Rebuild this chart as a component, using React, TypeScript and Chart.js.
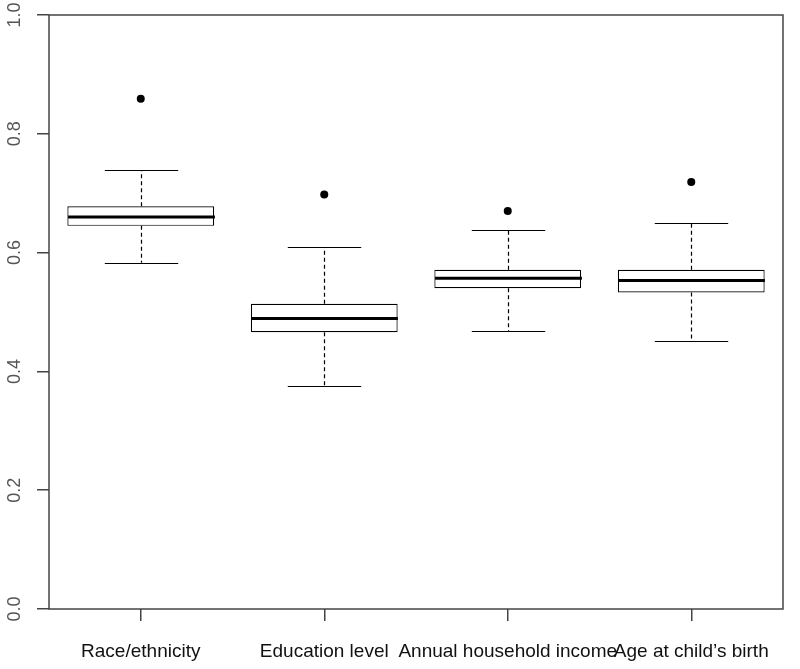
import React, { useEffect, useRef } from "react";
import { Chart, registerables } from "chart.js";

Chart.register(...registerables);

const categories = [
  "Race/ethnicity",
  "Education level",
  "Annual household income",
  "Age at child\u2019s birth",
];
const whiskerLow = [0.583, 0.376, 0.468, 0.452];
const q1 = [0.645, 0.466, 0.54, 0.533];
const median = [0.66, 0.489, 0.557, 0.553];
const q3 = [0.678, 0.514, 0.571, 0.571];
const whiskerHigh = [0.739, 0.609, 0.638, 0.65];
const outliers = [0.859, 0.698, 0.67, 0.719];
const yTicks = [0, 0.2, 0.4, 0.6, 0.8, 1.0];

const FONT = '"Liberation Sans", Arial, Helvetica, sans-serif';
const AXIS_COLOR = "#444";

const boxPlugin = {
  id: "boxExtras",
  afterDatasetsDraw(chart: any) {
    const { ctx, scales } = chart;
    const xs = scales.x;
    const ys = scales.y;
    const meta = chart.getDatasetMeta(0);
    ctx.save();
    ctx.strokeStyle = "#000";
    for (let i = 0; i < categories.length; i++) {
      const x = Math.round(xs.getPixelForValue(i)) + 0.5;
      const w = meta.data[i].width;
      // dashed whiskers
      ctx.lineWidth = 1.2;
      ctx.setLineDash([4, 3]);
      ctx.beginPath();
      ctx.moveTo(x, ys.getPixelForValue(q3[i]));
      ctx.lineTo(x, ys.getPixelForValue(whiskerHigh[i]));
      ctx.moveTo(x, ys.getPixelForValue(q1[i]));
      ctx.lineTo(x, ys.getPixelForValue(whiskerLow[i]));
      ctx.stroke();
      // caps
      ctx.setLineDash([]);
      ctx.beginPath();
      const yh = Math.round(ys.getPixelForValue(whiskerHigh[i])) + 0.5;
      const yl = Math.round(ys.getPixelForValue(whiskerLow[i])) + 0.5;
      ctx.moveTo(x - w / 4, yh);
      ctx.lineTo(x + w / 4, yh);
      ctx.moveTo(x - w / 4, yl);
      ctx.lineTo(x + w / 4, yl);
      ctx.stroke();
      // median
      ctx.lineWidth = 3;
      ctx.beginPath();
      const ym = ys.getPixelForValue(median[i]);
      ctx.moveTo(x - w / 2, ym);
      ctx.lineTo(x + w / 2, ym);
      ctx.stroke();
    }
    ctx.restore();
  },
  afterDraw(chart: any) {
    const { ctx, chartArea } = chart;
    ctx.save();
    ctx.strokeStyle = AXIS_COLOR;
    ctx.lineWidth = 1.5;
    ctx.strokeRect(chartArea.left, chartArea.top, chartArea.right - chartArea.left, chartArea.bottom - chartArea.top);
    ctx.restore();
  },
};

export default function App() {
  const ref = useRef<HTMLCanvasElement | null>(null);
  useEffect(() => {
    if (!ref.current) return;
    const chart = new Chart(ref.current, {
      type: "bar",
      data: {
        labels: categories,
        datasets: [
          {
            type: "bar",
            data: q1.map((v, i) => [v, q3[i]]) as any,
            backgroundColor: "#fff",
            borderColor: "#000",
            borderWidth: 1.2,
            borderSkipped: false,
            barPercentage: 0.8,
            categoryPercentage: 1,
          },
          {
            type: "line",
            data: outliers,
            showLine: false,
            pointRadius: 4,
            pointBackgroundColor: "#000",
            pointBorderColor: "#000",
            pointBorderWidth: 0,
          } as any,
        ],
      },
      options: {
        animation: false,
        responsive: false,
        maintainAspectRatio: false,
        layout: { padding: { top: 15, right: 17, left: 0, bottom: 0 } },
        plugins: { legend: { display: false }, tooltip: { enabled: false } },
        scales: {
          x: {
            type: "category",
            offset: true,
            grid: { offset: false, drawOnChartArea: false, drawTicks: true, tickLength: 12, color: AXIS_COLOR, lineWidth: 1.5 },
            border: { display: false },
            ticks: {
              color: "#111",
              font: { family: FONT, size: 19 },
              padding: 19,
              maxRotation: 0,
              minRotation: 0,
              autoSkip: false,
            },
            afterFit: (s: any) => {
              s.height = 60;
              s.paddingLeft = 0;
              s.paddingRight = 0;
            },
          },
          y: {
            type: "linear",
            min: 0,
            max: 1,
            afterBuildTicks: (s: any) => {
              s.ticks = yTicks.map((v) => ({ value: v }));
            },
            grid: { drawOnChartArea: false, drawTicks: true, tickLength: 12, color: AXIS_COLOR, lineWidth: 1.5 },
            border: { display: false },
            ticks: {
              color: "#555",
              font: { family: FONT, size: 18 },
              padding: 9,
              minRotation: 90,
              maxRotation: 90,
              crossAlign: "center",
              callback: (v: any) => Number(v).toFixed(1),
            },
            afterFit: (s: any) => {
              s.width = 49;
              s.paddingTop = 0;
              s.paddingBottom = 0;
            },
          },
        },
      },
      plugins: [boxPlugin],
    });
    return () => chart.destroy();
  }, []);
  return (
    <div style={{ position: "absolute", left: 0, top: 0, width: 800, height: 669, background: "#fff" }}>
      <canvas ref={ref} width={800} height={669} style={{ width: 800, height: 669 }} />
    </div>
  );
}
